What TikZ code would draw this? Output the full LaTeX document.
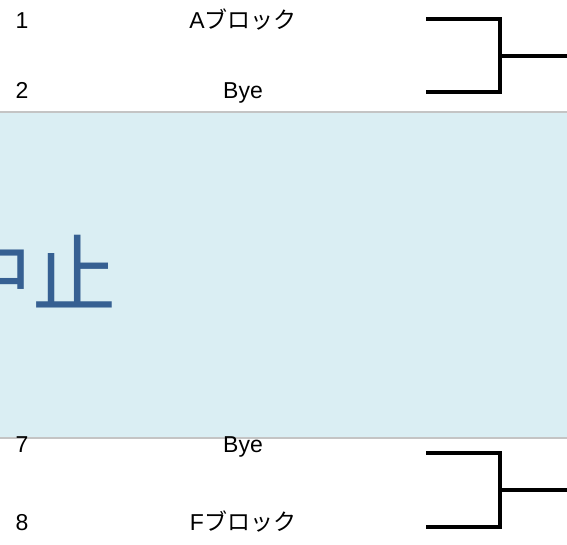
\documentclass[tikz,border=0pt]{standalone}
\usepackage{fontspec}
\setmainfont{Liberation Sans}
\newfontfamily\jp{Noto Sans CJK JP}
\definecolor{bandfill}{HTML}{DAEEF3}
\definecolor{bandline}{HTML}{C4C4C4}
\definecolor{stoptext}{HTML}{366092}
\begin{document}
\begin{tikzpicture}[x=1pt,y=-1pt,
  lbl/.style={inner sep=0pt, anchor=base, font=\fontsize{23}{23}\selectfont},
  num/.style={lbl, anchor=base west},
  br/.style={line width=3.2pt, line join=miter}]
\useasboundingbox (0,0) rectangle (567,545);
\clip (0,0) rectangle (567,545);
% band
\fill[bandfill] (0,112) rectangle (567,438);
\draw[bandline, line width=2pt] (0,112.5) -- (567,112.5);
\draw[bandline, line width=2pt] (0,437.5) -- (567,437.5);
\node[inner sep=0pt, anchor=base east, text=stoptext, font=\jp\fontsize{84}{84}\selectfont] (stop) at (117,305) {中止};
% rows
\node[num] (n1) at (15.5,28.3) {1};
\node[lbl] (tA) at (243,28.3) {A{\jp ブロック}};
\node[num] (n2) at (15.5,98.5) {2};
\node[lbl] (tB1) at (243,98.5) {Bye};
\node[num] (n7) at (15.5,452) {7};
\node[lbl] (tB2) at (243,452) {Bye};
\node[num] (n8) at (15.5,530) {8};
\node[lbl] (tF) at (243,530) {F{\jp ブロック}};
% brackets
\coordinate (a1) at (426,19);
\coordinate (a2) at (426,92);
\coordinate (aj) at (500,56);
\coordinate (ao) at (567,56);
\draw[br] (a1) -- (a1 -| aj) -- (a2 -| aj) -- (a2);
\draw[br] (aj) -- (ao);
\coordinate (b1) at (426,453);
\coordinate (b2) at (426,527);
\coordinate (bj) at (500,490);
\coordinate (bo) at (567,490);
\draw[br] (b1) -- (b1 -| bj) -- (b2 -| bj) -- (b2);
\draw[br] (bj) -- (bo);
\end{tikzpicture}
\end{document}
